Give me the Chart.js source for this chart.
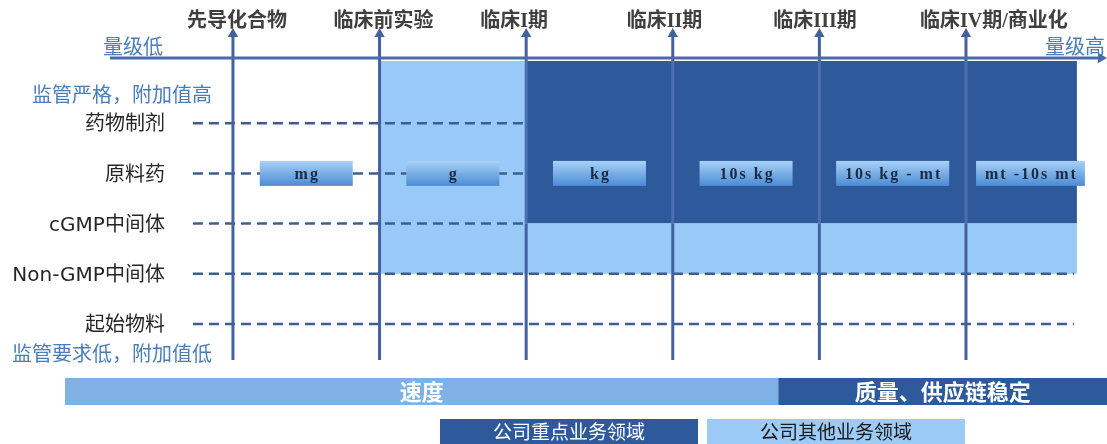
<!DOCTYPE html>
<html>
<head>
<meta charset="utf-8">
<script src="https://cdn.jsdelivr.net/npm/chart.js@4/dist/chart.umd.min.js"></script>
<style>
    body { margin: 0; background: #ffffff; }
    #wrap { position: relative; width: 1107px; height: 444px; }
</style>
</head>
<body>
<div id="wrap"><canvas id="chain-chart"></canvas></div>
<script>
// Stages along the x axis (index = x value)
const stages = ['先导化合物', '临床前实验', '临床I期', '临床II期', '临床III期', '临床IV期/商业化'];
// Material levels, bottom to top (index = y value)
const materials = ['起始物料', 'Non-GMP中间体', 'cGMP中间体', '原料药', '药物制剂'];
// Typical batch size of the API at each stage
const batchScales = ['mg', 'g', 'kg', '10s kg', '10s kg - mt', 'mt -10s mt'];
const axisEnds = ['量级低', '量级高'];
const regulationNotes = ['监管严格，附加值高', '监管要求低，附加值低'];
const drivers = ['速度', '质量、供应链稳定'];
const legendLabels = ['公司重点业务领域', '公司其他业务领域'];

// Business coverage: [firstStage, lastStage(edge), topLevel, bottomLevel]
const otherArea = [[1, 2, 'top', 1], [2, 'end', 2, 1]];
const focusArea = [[2, 'end', 'top', 2]];
// Dashed guide for each material level ends at this stage ('end' = right edge)
const guideEnds = ['end', 'end', 2, 2, 2];

const DARK = '#2e5a9c';
const LIGHT = '#99c9f7';
const LINE = '#43619c';
const BLUE_TEXT = '#4a7ebb';
const CJK = '"Noto Sans CJK SC", "Noto Sans", sans-serif';

// layout of the scales (stage 0 sits at 233px, one stage = 146.6px, one level = 50.2px)
const X_MIN = -1.589, X_MAX = 5.962;
const Y_MIN = -2.39, Y_MAX = 6.454;
const AREA_TOP = 5.239, AREA_END = 5.757, AXIS_Y = 5.30;
const GUIDE_START = -0.273, GUIDE_END = 5.737;

function rect(x0, x1, yTop, yBottom, color, order) {
    return {
        data: [{ x: x0, y: yTop }, { x: x1, y: yTop }],
        borderWidth: 0,
        pointRadius: 0,
        backgroundColor: color,
        fill: { value: yBottom },
        order: order
    };
}

function edge(v, fallback) { return v === 'end' || v === 'top' ? fallback : v; }

const datasets = [];

otherArea.forEach(a => datasets.push(rect(a[0], edge(a[1], AREA_END), edge(a[2], AREA_TOP), a[3], LIGHT, 10)));
focusArea.forEach(a => datasets.push(rect(a[0], edge(a[1], AREA_END), edge(a[2], AREA_TOP), a[3], DARK, 10)));

materials.forEach((m, level) => {
    datasets.push({
        data: [{ x: GUIDE_START, y: level }, { x: edge(guideEnds[level], GUIDE_END), y: level }],
        borderColor: '#3d5f8f',
        borderWidth: 2.5,
        borderDash: [10, 6],
        pointRadius: 0,
        fill: false,
        order: 8
    });
});

stages.forEach((s, i) => {
    datasets.push({
        data: [{ x: i, y: -0.717 }, { x: i, y: 2 }, { x: i, y: AREA_TOP }, { x: i, y: 5.777 }],
        borderColor: LINE,
        borderWidth: 3,
        segment: {
            borderColor: ctx => (i >= 2 && ctx.p0DataIndex === 1) ? '#4b6fb0' : LINE
        },
        pointStyle: 'triangle',
        pointRadius: [0, 0, 0, 6],
        pointBackgroundColor: LINE,
        pointBorderWidth: 0,
        fill: false,
        order: 5
    });
});

// horizontal magnitude axis
datasets.push({
    data: [{ x: -0.839, y: AXIS_Y }, { x: 5.921, y: AXIS_Y }],
    borderColor: '#4a6aab',
    borderWidth: 3,
    pointStyle: 'triangle',
    pointRadius: [0, 6],
    pointRotation: 90,
    pointBackgroundColor: '#4a6aab',
    pointBorderWidth: 0,
    fill: false,
    order: 4
});

const diagramText = {
    id: 'diagramText',
    beforeDatasetsDraw(chart) {
        const { ctx, scales: { x } } = chart;
        ctx.save();
        ctx.textBaseline = 'middle';
        // stage titles (arrows are drawn over them)
        ctx.font = 'bold 20px "Liberation Serif", ' + CJK;
        ctx.fillStyle = '#3f3f3f';
        ctx.textAlign = 'left';
        stages.forEach((s, i) => ctx.fillText(s, x.getPixelForValue(i) - 46, 22));
        ctx.restore();
    },
    afterDatasetsDraw(chart) {
        const { ctx, scales: { x, y } } = chart;
        ctx.save();
        // batch size boxes on the API row
        ctx.font = 'bold 16px "Liberation Serif", serif';
        ctx.letterSpacing = '2px';
        ctx.textAlign = 'center';
        ctx.textBaseline = 'middle';
        batchScales.forEach((label, i) => {
            const cx = x.getPixelForValue(i === batchScales.length - 1 ? i + 0.44 : i + 0.5);
            const cy = y.getPixelForValue(3);
            const w = Math.max(93, ctx.measureText(label).width + 16);
            const h = 25;
            const g = ctx.createLinearGradient(0, cy - h / 2, 0, cy + h / 2);
            g.addColorStop(0, '#a8d1f6');
            g.addColorStop(1, '#4b8cd4');
            ctx.fillStyle = g;
            ctx.fillRect(cx - w / 2, cy - h / 2, w, h);
            ctx.fillStyle = '#1b2a44';
            ctx.fillText(label, cx + 1, cy + 1);
        });
        ctx.letterSpacing = '0px';

        // material row labels
        ctx.font = '20px "DejaVu Sans", ' + CJK;
        ctx.fillStyle = '#262626';
        ctx.textAlign = 'right';
        const labelRight = x.getPixelForValue(GUIDE_START) - 28;
        materials.forEach((m, level) => ctx.fillText(m, labelRight, y.getPixelForValue(level) + 2));

        // blue notes
        ctx.font = '20px ' + CJK;
        ctx.fillStyle = BLUE_TEXT;
        ctx.textAlign = 'left';
        ctx.fillText(axisEnds[0], 103, 46);
        ctx.textAlign = 'right';
        ctx.fillText(axisEnds[1], 1105, 46);
        ctx.fillText(regulationNotes[0], 212, 94);
        ctx.fillText(regulationNotes[1], 212, 353);

        // driver band
        const split = x.getPixelForValue(3.72);
        ctx.fillStyle = '#7fb1e4';
        ctx.fillRect(65, 378, split - 65, 27);
        ctx.fillStyle = DARK;
        ctx.fillRect(split, 378, 1107 - split, 27);
        ctx.font = 'bold 22px ' + CJK;
        ctx.fillStyle = '#ffffff';
        ctx.textAlign = 'center';
        ctx.fillText(drivers[0], (65 + split) / 2, 392);
        ctx.fillText(drivers[1], (split + 1107) / 2, 392);

        // legend
        ctx.font = '19px ' + CJK;
        ctx.fillStyle = DARK;
        ctx.fillRect(440, 419, 258, 25);
        ctx.fillStyle = '#9dcbf7';
        ctx.fillRect(707, 419, 258, 25);
        ctx.fillStyle = '#ffffff';
        ctx.fillText(legendLabels[0], 569, 432);
        ctx.fillStyle = '#1a1a1a';
        ctx.fillText(legendLabels[1], 836, 432);
        ctx.restore();
    }
};

new Chart(document.getElementById('chain-chart'), {
    type: 'line',
    data: { datasets: datasets },
    options: {
        responsive: true,
        maintainAspectRatio: false,
        animation: false,
        layout: { padding: 0, autoPadding: false },
        plugins: {
            legend: { display: false },
            tooltip: { enabled: false }
        },
        elements: { line: { tension: 0 } },
        scales: {
            x: { type: 'linear', display: false, min: X_MIN, max: X_MAX },
            y: { type: 'linear', display: false, min: Y_MIN, max: Y_MAX }
        }
    },
    plugins: [diagramText]
});
</script>
</body>
</html>
